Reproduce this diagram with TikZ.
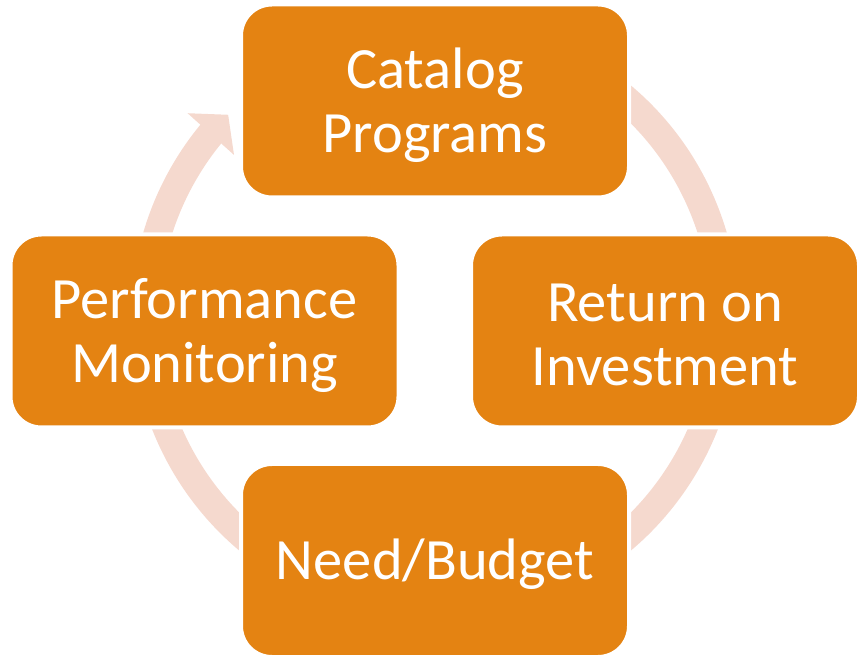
\documentclass[tikz,border=0pt]{standalone}
\usepackage{fontspec}
\setmainfont{Carlito}
\usetikzlibrary{arrows.meta,bending}
\definecolor{boxorange}{RGB}{228,131,18}
\definecolor{ringpeach}{RGB}{245,217,206}
\begin{document}
\begin{tikzpicture}[x=1pt, y=1pt, line join=round,
	box/.style={rectangle, rounded corners=31pt, fill=boxorange, draw=white, line width=4pt,
		minimum width=388pt, minimum height=193pt, inner sep=0pt},
	txt/.style={inner sep=0pt, text=white, align=center, font=\fontsize{58.5}{64}\selectfont},
	ring/.style={draw=ringpeach, line width=28pt}]
	\useasboundingbox (0,0) rectangle (859,656);
	\coordinate (O) at (435,338);
	\draw[ring] (O) ++(110:290) arc[start angle=110, end angle=-180, radius=290];
	\draw[ring, -{Triangle[width=61pt, length=26pt]}] (O) ++(180:290) arc[start angle=180, end angle=135.5, radius=290];
	\foreach \n/\p/\t in {cat/{(435,555)}/{Catalog\\Programs}, roi/{(665,325)}/{Return on\\Investment},
		need/{(435,95.5)}/{Need/Budget}, perf/{(204.5,325)}/{Performance\\Monitoring}}
	{\node[box] (\n) at \p {};
	\node[txt] (\n-t) at ([yshift=-4pt]\n.center) {\t};}
\end{tikzpicture}
\end{document}
